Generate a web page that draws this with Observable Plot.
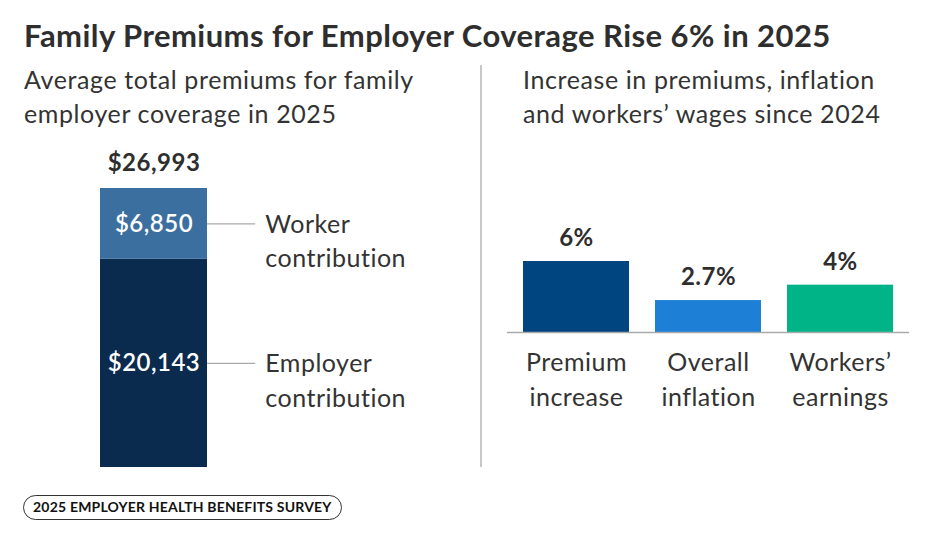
<!DOCTYPE html>
<html><head><meta charset="utf-8">
<script src="https://cdn.jsdelivr.net/npm/d3@7"></script>
<script src="https://cdn.jsdelivr.net/npm/@observablehq/plot@0.6"></script>
<style>
body{margin:0;background:#fff;font-family:Lato, sans-serif;color:#333}
#wrap{position:relative;width:943px;height:540px;overflow:hidden;background:#fff}
.title{position:absolute;left:24px;top:16px;font-size:31px;line-height:38px;font-weight:700;letter-spacing:0.45px;color:#2e2e2e;white-space:nowrap}
.sub{position:absolute;top:62px;font-size:25px;line-height:34px;letter-spacing:0.6px;color:#333;font-weight:400;white-space:nowrap}
#left{position:absolute;left:0;top:130px}
#right{position:absolute;left:480px;top:130px}
#wrap svg text{letter-spacing:0.5px}
.divider{position:absolute;left:480px;top:65px;width:1.5px;height:402px;background:#c8c8c8}
.badge{position:absolute;left:23px;top:495px;height:25px;box-sizing:border-box;border:1.5px solid #333;border-radius:13px;padding:0 9px;line-height:22px;font-size:14px;font-weight:700;letter-spacing:0.2px;color:#111;white-space:nowrap}
</style></head>
<body>
<div id="wrap">
  <div class="title">Family Premiums for Employer Coverage Rise 6% in 2025</div>
  <div class="sub" style="left:24px">Average total premiums for family<br>employer coverage in 2025</div>
  <div class="sub" style="left:523px">Increase in premiums, inflation<br>and workers’ wages since 2024</div>
  <div class="divider"></div>
  <div id="left"></div>
  <div id="right"></div>
  <div class="badge">2025 EMPLOYER HEALTH BENEFITS SURVEY</div>
</div>
<script>
// Left panel data
const parts = ["Employer contribution", "Worker contribution"];
const partValues = [20143, 6850];
const partTotal = 26993;
const partColors = ["#0a2a4e", "#3a6fa0"];

// Right panel data
const categories = ["Premium increase", "Overall inflation", "Workers’ earnings"];
const increases = [6, 2.7, 4];
const increaseLabels = ["6%", "2.7%", "4%"];
const categoryColors = ["#00457f", "#1e7fd6", "#00b487"];

const fmt = d3.format(",");
const font = "Lato, sans-serif";

const leftData = parts.map((p, i) => ({part: p, value: partValues[i], label: "$" + fmt(partValues[i])}));

const left = Plot.plot({
  width: 480, height: 345, margin: 0,
  style: {fontFamily: font, color: "#333", background: "transparent", overflow: "visible"},
  x: {type: "linear", domain: [0, 1], range: [100, 207], axis: null},
  y: {domain: [0, partTotal], range: [337, 58], axis: null},
  color: {domain: parts, range: partColors},
  marks: [
    Plot.rectY(leftData, Plot.stackY({x1: 0, x2: 1, y: "value", fill: "part"})),
    Plot.ruleY(leftData, Plot.stackY({x1: 1, x2: 1.45, y: "value", stroke: "#aaaaaa", strokeWidth: 1.2})),
    Plot.text(leftData, Plot.stackY({x: 0.5, y: "value", text: "label", fill: "white", fontSize: 24, fontWeight: 600})),
    Plot.text(leftData, Plot.stackY({x: 1.54, y: "value", text: d => d.part.replace(" ", "\n"), textAnchor: "start", fontSize: 25, lineHeight: 1.38, dy: 15, fill: "#333"})),
    Plot.text([partTotal], {x: 0.5, y: d => d, text: d => "$" + fmt(d), dy: -25, fontSize: 24, fontWeight: 700, fill: "#2e2e2e"})
  ]
});
document.getElementById("left").append(left);

const rightData = categories.map((c, i) => ({cat: c, value: increases[i], label: increaseLabels[i]}));

const right = Plot.plot({
  width: 463, height: 300,
  marginLeft: 27, marginRight: 34, marginTop: 0, marginBottom: 0,
  style: {fontFamily: font, color: "#333", background: "transparent", overflow: "visible"},
  x: {domain: categories, paddingInner: 0.2, paddingOuter: 0.115, axis: null},
  y: {domain: [0, 6], range: [202, 131], axis: null},
  color: {domain: categories, range: categoryColors},
  marks: [
    Plot.barY(rightData, {x: "cat", y: "value", fill: "cat"}),
    Plot.ruleY([0], {stroke: "#aaaaaa", strokeWidth: 1.5}),
    Plot.text(rightData, {x: "cat", y: "value", text: "label", dy: -23, fontSize: 24, fontWeight: 700, fill: "#2e2e2e"}),
    Plot.text(rightData, {x: "cat", y: 0, text: d => d.cat.replace(" ", "\n"), dy: 45, fontSize: 25, lineHeight: 1.38, fill: "#333"})
  ]
});
document.getElementById("right").append(right);
</script>
</body></html>
